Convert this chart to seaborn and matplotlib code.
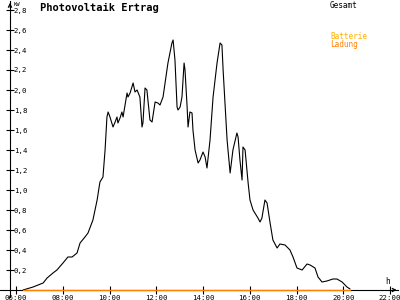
import matplotlib
matplotlib.use("Agg")
import matplotlib.pyplot as plt
import seaborn as sns
import pandas as pd

# ---- data (time in hours, power in kW) ----
hours = [6.30, 6.73, 7.16, 7.33, 7.58, 7.75, 8.01, 8.22, 8.40, 8.61, 8.74, 8.95, 9.08, 9.29,
         9.47, 9.59, 9.72, 9.81, 9.89, 9.94, 10.02, 10.15, 10.24, 10.32, 10.36, 10.45, 10.53,
         10.58, 10.75, 10.79, 10.88, 11.01, 11.09, 11.18, 11.30, 11.39, 11.43, 11.52, 11.60,
         11.73, 11.82, 11.95, 12.07, 12.16, 12.29, 12.50, 12.67, 12.72, 12.80, 12.89, 12.93,
         13.02, 13.10, 13.19, 13.23, 13.32, 13.36, 13.44, 13.53, 13.57, 13.66, 13.79, 13.87,
         14.00, 14.09, 14.17, 14.30, 14.43, 14.60, 14.73, 14.81, 14.86, 14.94, 15.03, 15.16,
         15.28, 15.45, 15.50, 15.58, 15.67, 15.71, 15.80, 15.93, 16.01, 16.14, 16.35, 16.44,
         16.52, 16.65, 16.74, 16.87, 16.99, 17.17, 17.29, 17.51, 17.72, 17.85, 18.02, 18.24,
         18.45, 18.58, 18.79, 18.92, 19.09, 19.30, 19.56, 19.73, 19.95, 20.16, 20.29]
gesamt_kw = [0.00, 0.03, 0.07, 0.12, 0.17, 0.20, 0.27, 0.33, 0.33, 0.37, 0.47, 0.53, 0.57, 0.70,
             0.90, 1.08, 1.13, 1.40, 1.73, 1.78, 1.73, 1.63, 1.68, 1.73, 1.67, 1.72, 1.78,
             1.73, 1.97, 1.93, 1.97, 2.07, 1.98, 2.00, 1.93, 1.63, 1.67, 2.02, 2.00,
             1.70, 1.68, 1.88, 1.87, 1.85, 1.93, 2.27, 2.47, 2.50, 2.30, 1.83, 1.80,
             1.83, 1.93, 2.27, 2.20, 1.83, 1.63, 1.78, 1.77, 1.60, 1.40, 1.27, 1.30,
             1.38, 1.33, 1.22, 1.50, 1.93, 2.27, 2.47, 2.45, 2.20, 1.87, 1.50, 1.17,
             1.40, 1.57, 1.53, 1.30, 1.10, 1.43, 1.40, 1.07, 0.90, 0.80, 0.72, 0.68,
             0.72, 0.90, 0.87, 0.67, 0.50, 0.42, 0.46, 0.45, 0.40, 0.33, 0.22, 0.20,
             0.26, 0.25, 0.22, 0.13, 0.08, 0.09, 0.11, 0.11, 0.08, 0.03, 0.01]
ladung_hours = [6.30, 20.29]
ladung_kw = [0.0, 0.0]

y_ticks = [0.2, 0.4, 0.6, 0.8, 1.0, 1.2, 1.4, 1.6, 1.8, 2.0, 2.2, 2.4, 2.6, 2.8]
y_tick_labels = ["0,2", "0,4", "0,6", "0,8", "1,0", "1,2", "1,4", "1,6", "1,8",
                 "2,0", "2,2", "2,4", "2,6", "2,8"]
x_ticks = [6, 8, 10, 12, 14, 16, 18, 20, 22]
x_tick_labels = ["06:00", "08:00", "10:00", "12:00", "14:00", "16:00", "18:00", "20:00", "22:00"]

df_g = pd.DataFrame({"h": hours, "kw": gesamt_kw})
df_l = pd.DataFrame({"h": ladung_hours, "kw": ladung_kw})

sns.set_theme(style="white")
plt.rcParams['font.family'] = ['DejaVu Sans Mono', 'DejaVu Sans']

W, H = 400, 300
fig = plt.figure(figsize=(4, 3), dpi=100)
ax = fig.add_axes([0, 0, 1, 1])
ax.set_facecolor("white")

x0 = 5.315
px_per_h = 23.375
ax.set_xlim(x0, x0 + W / px_per_h)
ax.set_ylim(-0.10, 2.90)
yaxis_x = x0 + 10 / px_per_h

sns.lineplot(data=df_g, x="h", y="kw", color="black", lw=0.8, ax=ax,
             estimator=None, sort=False, zorder=3)
sns.lineplot(data=df_l, x="h", y="kw", color="#ff8000", lw=1.0, ax=ax,
             estimator=None, sort=False, zorder=4)

for s in ["top", "right"]:
    ax.spines[s].set_visible(False)
ax.spines["left"].set_position(("data", yaxis_x))
ax.spines["bottom"].set_position(("data", 0))
ax.spines["left"].set_bounds(-0.07, 2.89)
ax.spines["bottom"].set_bounds(x0, x0 + 398 / px_per_h)
for s in ["left", "bottom"]:
    ax.spines[s].set_color("black")
    ax.spines[s].set_linewidth(0.8)

ax.set_yticks(y_ticks)
ax.set_yticklabels(y_tick_labels)
ax.set_xticks(x_ticks)
ax.set_xticklabels(x_tick_labels)
ax.tick_params(axis="both", direction="inout", length=6, width=0.8, colors="black",
               labelsize=5.3, left=True, bottom=True)
ax.tick_params(axis="y", pad=-5.8)
ax.tick_params(axis="x", pad=0.5)
for lab in ax.get_yticklabels():
    lab.set_ha("left")
ax.set_xlabel("")
ax.set_ylabel("")
ax.grid(False)

# axis arrows
ax.annotate("", xy=(yaxis_x, 2.90), xytext=(yaxis_x, 2.80),
            arrowprops=dict(arrowstyle="->", lw=0.8, color="black", mutation_scale=6))
ax.annotate("", xy=(x0 + 399.5 / px_per_h, 0), xytext=(x0 + 390 / px_per_h, 0),
            arrowprops=dict(arrowstyle="->", lw=0.8, color="black", mutation_scale=6))

def fx(px):
    return px / W

def fy(py):
    return 1 - py / H

fig.text(fx(40), fy(11), "Photovoltaik Ertrag", fontsize=7.5, fontweight="bold",
         va="baseline", ha="left", color="black")
fig.text(fx(14), fy(6.5), "KW", fontsize=4, va="baseline", ha="left", color="black")
fig.text(fx(330), fy(7.5), "Gesamt", fontsize=5.6, va="baseline", ha="left", color="black")
fig.text(fx(330), fy(39), "Batterie", fontsize=5.6, va="baseline", ha="left", color="#ffb000")
fig.text(fx(330), fy(47), "Ladung", fontsize=5.6, va="baseline", ha="left", color="#ff8000")
fig.text(fx(385), fy(284), "h", fontsize=5.6, va="baseline", ha="left", color="black")

fig.savefig("out.png", dpi=100, facecolor="white")
